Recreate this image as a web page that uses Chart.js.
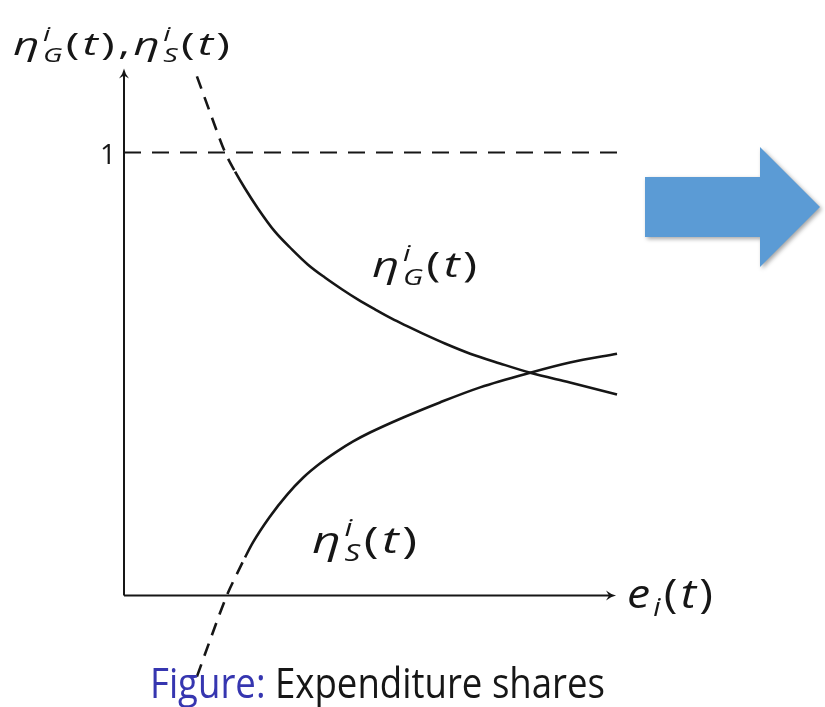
<!DOCTYPE html>
<html>
<head>
<meta charset="utf-8">
<script src="https://cdn.jsdelivr.net/npm/chart.js@4/dist/chart.umd.min.js"></script>
<style>
  body { margin: 0; background: #fff; }
  canvas { display: block; }
</style>
</head>
<body>
<canvas id="chart" width="825" height="707"></canvas>
<script>
// eta_G: goods share, falls with expenditure
var gX = [1.47, 1.75, 2.04, 2.24, 2.44, 2.70, 3.04, 3.39, 3.71, 4.05, 4.40, 4.72, 5.06, 5.40, 5.73, 6.07, 6.47, 6.98, 7.58, 8.19, 8.99, 9.94];
var gY = [1.172, 1.086, 1.0, 0.957, 0.919, 0.874, 0.822, 0.781, 0.747, 0.718, 0.691, 0.668, 0.646, 0.625, 0.607, 0.589, 0.569, 0.546, 0.524, 0.503, 0.481, 0.454];
// eta_S: services share, rises with expenditure
var sX = [1.47, 1.77, 2.08, 2.26, 2.44, 2.60, 2.94, 3.29, 3.61, 3.95, 4.29, 4.62, 4.96, 5.63, 6.37, 7.18, 8.19, 8.99, 9.94];
var sY = [-0.183, -0.090, 0.002, 0.045, 0.086, 0.120, 0.178, 0.228, 0.266, 0.298, 0.325, 0.348, 0.368, 0.402, 0.436, 0.470, 0.503, 0.526, 0.546];
// the "1" level
var oneX = [0, 10];
var oneY = [1, 1];
var yTicks = [1];
// points up to these indexes are drawn dashed
var G_DASH_END = 3;
var S_DASH_END = 4;

var FONT = '"Open Sans", "DejaVu Sans", sans-serif';
var INK = '#161616';

function pts(xs, ys) {
  return xs.map(function (x, i) { return { x: x, y: ys[i] }; });
}

// lays out eta^i_G(t) style pieces, returns pieces with offsets and total width
function layoutMath(ctx, size, parts) {
  var pos = 0, supX = null, out = [], gap = size * 0.07;
  parts.forEach(function (p) {
    var txt = p[0], kind = p[1];
    var s = size, dy = 0;
    if (kind === 'sup') { s = size * 0.62; dy = -size * 0.45; }
    if (kind === 'sub') { s = size * 0.62; dy = size * 0.22; }
    var font = (kind === 'up' ? '' : 'italic ') + s + 'px ' + FONT;
    ctx.font = font;
    var startX = (kind === 'sub' && supX !== null) ? supX : pos;
    var w = ctx.measureText(txt).width;
    out.push({ txt: txt, font: font, x: startX, dy: dy });
    if (kind === 'sup') {
      supX = pos;
      pos = pos + w;
    } else if (kind === 'sub' && supX !== null) {
      pos = Math.max(pos, startX + w) + gap;
      supX = null;
    } else {
      pos = startX + w + gap;
      supX = null;
    }
  });
  return { pieces: out, width: pos - gap };
}

// draws the pieces from x to x + width, y is the baseline
function drawMath(ctx, x, y, size, parts, width) {
  var lay = layoutMath(ctx, size, parts);
  ctx.save();
  ctx.translate(x, y);
  ctx.scale(width / lay.width, 1);
  lay.pieces.forEach(function (p) {
    ctx.font = p.font;
    ctx.fillText(p.txt, p.x, p.dy);
  });
  ctx.restore();
}

function eta(sub) {
  return [['η', 'it'], ['i', 'sup'], [sub, 'sub'], ['(', 'up'], ['t', 'it'], [')', 'up']];
}

function arrowHead(ctx, x, y, dir) {
  ctx.save();
  ctx.translate(x, y);
  ctx.rotate(dir);
  ctx.beginPath();
  ctx.moveTo(0, 0);
  ctx.quadraticCurveTo(-5, -1, -10, -5);
  ctx.lineTo(-7, 0);
  ctx.lineTo(-10, 5);
  ctx.quadraticCurveTo(-5, 1, 0, 0);
  ctx.closePath();
  ctx.fill();
  ctx.restore();
}

var sketch = {
  id: 'sketch',
  beforeDatasetsDraw: function (chart) {
    var ctx = chart.ctx, xs = chart.scales.x, ys = chart.scales.y;
    var x0 = xs.getPixelForValue(0), y0 = ys.getPixelForValue(0);
    var xEnd = xs.getPixelForValue(9.92), yEnd = ys.getPixelForValue(1.19);
    ctx.save();
    ctx.strokeStyle = INK;
    ctx.fillStyle = INK;
    ctx.lineWidth = 2;
    ctx.beginPath();
    ctx.moveTo(x0, y0);
    ctx.lineTo(xEnd - 4, y0);
    ctx.moveTo(x0, y0);
    ctx.lineTo(x0, yEnd + 4);
    ctx.stroke();
    arrowHead(ctx, xEnd, y0, 0);
    arrowHead(ctx, x0, yEnd, -Math.PI / 2);
    ctx.restore();
  },
  afterDraw: function (chart) {
    var ctx = chart.ctx, xs = chart.scales.x, ys = chart.scales.y;
    var x0 = xs.getPixelForValue(0), y0 = ys.getPixelForValue(0);
    ctx.save();
    ctx.fillStyle = INK;
    ctx.textBaseline = 'alphabetic';

    // tick label
    ctx.font = '28px ' + FONT;
    ctx.textAlign = 'right';
    yTicks.forEach(function (t) {
      ctx.fillText(String(t), x0 - 8, ys.getPixelForValue(t) + 11);
    });
    ctx.textAlign = 'left';

    // axis titles
    var title = eta('G').concat([[',', 'up']], eta('S'));
    drawMath(ctx, 13, 55, 31, title, 217);
    drawMath(ctx, xs.getPixelForValue(10.14), y0 + 12, 40,
      [['e', 'it'], ['i', 'sub'], ['(', 'up'], ['t', 'it'], [')', 'up']], 86);

    // curve labels
    drawMath(ctx, 372, 277, 35, eta('G'), 105);
    drawMath(ctx, 312, 553, 37, eta('S'), 105);

    // caption
    ctx.font = '42px ' + FONT;
    var w1 = ctx.measureText('Figure:').width;
    var wAll = ctx.measureText('Figure: Expenditure shares').width;
    ctx.save();
    ctx.translate(150, 698);
    ctx.scale(455 / wAll, 1);
    ctx.fillStyle = '#3636b0';
    ctx.fillText('Figure:', 0, 0);
    ctx.fillStyle = INK;
    ctx.fillText(' Expenditure shares', w1, 0);
    ctx.restore();

    // blue arrow on the right
    ctx.shadowColor = 'rgba(0,0,0,0.35)';
    ctx.shadowBlur = 4;
    ctx.shadowOffsetX = 2;
    ctx.shadowOffsetY = 2;
    ctx.fillStyle = '#5B9BD5';
    ctx.beginPath();
    ctx.moveTo(645, 177);
    ctx.lineTo(760, 177);
    ctx.lineTo(760, 147);
    ctx.lineTo(820, 207);
    ctx.lineTo(760, 267);
    ctx.lineTo(760, 237);
    ctx.lineTo(645, 237);
    ctx.closePath();
    ctx.fill();
    ctx.restore();
  }
};

function curve(xs, ys, dashEnd) {
  return {
    data: pts(xs, ys),
    showLine: true,
    borderColor: INK,
    borderWidth: 2.6,
    pointRadius: 0,
    cubicInterpolationMode: 'monotone',
    clip: false,
    segment: {
      borderDash: function (c) { return c.p1DataIndex <= dashEnd ? [13, 9] : undefined; }
    }
  };
}

new Chart(document.getElementById('chart'), {
  type: 'scatter',
  data: {
    datasets: [
      {
        data: pts(oneX, oneY),
        showLine: true,
        borderColor: INK,
        borderWidth: 2,
        borderDash: [17, 11],
        pointRadius: 0,
        clip: false
      },
      curve(gX, gY, G_DASH_END),
      curve(sX, sY, S_DASH_END)
    ]
  },
  options: {
    responsive: false,
    animation: false,
    layout: { padding: { top: 64, bottom: 14, left: 124, right: 205 } },
    plugins: { legend: { display: false }, tooltip: { enabled: false } },
    scales: {
      x: { type: 'linear', min: 0, max: 10, display: false },
      y: { type: 'linear', min: -0.22, max: 1.2, display: false }
    }
  },
  plugins: [sketch]
});
</script>
</body>
</html>
